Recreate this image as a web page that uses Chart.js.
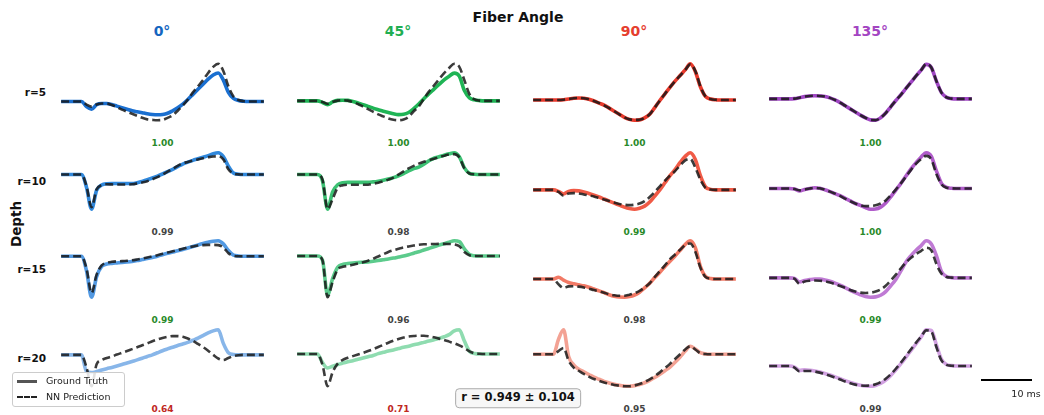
<!DOCTYPE html>
<html>
<head>
<meta charset="utf-8">
<script src="https://cdn.jsdelivr.net/npm/chart.js@4"></script>
<style>
  body { margin: 0; background: #fff; font-family: "DejaVu Sans", sans-serif; }
  #fig { position: relative; width: 1044px; height: 415px; overflow: hidden; }
  .lbl { position: absolute; transform: translate(-50%, -50%); white-space: nowrap; line-height: 1; }
  .panel { position: absolute; }
</style>
</head>
<body>
<div id="fig"></div>
<script>
// time axis (ms)
const timeMs = [0,1,2,3,4,5,6,7,8,9,10,11,12,13,14,15,16,17,18,19,20,
                21,22,23,24,25,26,27,28,29,30,31,32,33,34,35,36,37,38,39,40];

const angleLabels = ['0°', '45°', '90°', '135°'];
const depthLabels = ['r=5', 'r=10', 'r=15', 'r=20'];

// r=5
const gtR5A0   = [0,0,0,0,0, -5,-7.5,-3,-2,-2, -3,-4.5,-6,-7.5,-9, -10,-11,-12,-12.7,-13, -12.7,-11.5,-9,-6,-2.5, 2,7,12,17,22, 26,28,21,9,3, 1,0.3,0,0,0,0];
const nnR5A0   = [0,0,0,0,0, -3,-5,-3,-2,-2, -3.5,-5.5,-8,-10,-12, -14,-16,-17.5,-18,-18.3, -18,-16,-13.5,-9,-4, 2,9,15,21,28, 34,37,30,15,5, 1.5,0.3,0,0,0,0];
const gtR5A45  = [0,0,0,0,0, -1.5,-3.6,-1,0.5,0.7, 0.5,-0.5,-2,-3.7,-5.3, -7,-8.5,-10,-11.2,-12.5, -13.3,-13,-11.2,-7.5,-3, 2,7,11.5,16,20.5, 24,27,24,10,3, 1,0.3,0,0,0,0];
const nnR5A45  = [0,0,0,0,0, -1,-2.7,-1,0.3,0.7, 0.3,-1.2,-3,-5.5,-8, -10.5,-13,-15,-17,-18.3, -18.7,-18,-15.5,-10,-5.5, 2,9,15,21,27, 32,36,33,20,6.5, 1.5,0.3,0,0,0,0];
const gtR5A90  = [0,0,0,0,0, 0,0.3,1,1.7,2, 1.7,0.8,-1,-3,-5, -8,-11,-14,-17,-19, -19.8,-19.5,-17.5,-14,-7.5, -0.5,6,12.5,18.5,24, 29.5,35.5,28,13,3.5, 1,0.2,0,0,0,0];
const nnR5A90  = [0,0,0,0,0, 0,0.3,1,1.7,2, 1.7,0.8,-1,-3,-5.2, -8,-11,-14,-17,-19, -19.5,-19.3,-17.5,-14,-7.5, -0.5,6,12.5,18.5,24, 29.5,35,28.5,13.5,3.5, 1,0.2,0,0,0,0];
const gtR5A135 = [0,0,0,0,0, 0.3,1.2,2.2,2.8,3, 2.8,2.4,1,-1,-3.5, -6.5,-9.5,-12.5,-15.5,-18, -20,-20.3,-18,-13.5,-7.5, -1.5,4,10,16,22, 27.5,33,30,17,6, 1.5,0.3,0,0,0,0];
const nnR5A135 = [0,0,0,0,0, 0.3,1.2,2.2,2.8,3, 2.8,2.3,1,-1,-3.5, -6.5,-9.5,-12.5,-15.5,-18, -20,-20.2,-18,-13.5,-7.5, -1.5,4,10,16,22, 27.5,33.5,30,17,6, 1.5,0.3,0,0,0,0];

// r=10
const gtR10A0   = [0,0,0,0,0, -12,-33,-15,-10,-8.7, -8.5,-8.5,-8.6,-8.6,-8.6, -7.8,-6.5,-5,-3.3,-1.5, 0.5,2.7,5,7.5,10, 11.8,13.5,15,16.5,18, 19.8,20.7,17,8,1.5, 0.3,0,0,0,0,0];
const nnR10A0   = [0,0,0,0,0, -11,-31,-14,-10,-9.3, -9.4,-9.5,-9.5,-9.5,-9.3, -8.5,-7.5,-6.3,-4.5,-2.5, 0,2.7,5.5,8.3,10.7, 12,13.3,14.4,15.5,16.5, 17.2,17.3,14.5,5,1, 0.2,0,0,0,0,0];
const gtR10A45  = [0,0,0,0,0, -6,-34,-17,-10,-8, -7.7,-7.7,-7.7,-7.7,-7.7, -7.2,-6.5,-5.6,-4.5,-3, -1.2,1,3.5,5.8,7.3, 10,13.5,16,17.5,19, 20.3,21.3,17.5,6.5,1.2, 0.3,0,0,0,0,0];
const nnR10A45  = [0,0,0,0,0, -5,-34,-24,-13,-10.5, -10,-10,-10,-10,-10, -9,-8,-6.7,-5,-3, 0,3,6,8.5,10.7, 12.5,14,15.5,17,18.5, 19.7,20,17,6,1, 0.2,0,0,0,0,0];
const gtR10A90  = [0,0,0,0,0, -1.5,-4,-1.5,-0.7,-1, -2,-3.5,-5.2,-7,-9, -11,-13,-15,-17,-18.4, -19,-18,-16,-12,-6, 0,7,14,20,27, 33,36.5,30,14,3, 0.5,0,0,0,0,0];
const nnR10A90  = [0,0,0,0,0, -2,-5.7,-3.5,-3.2,-3.5, -4.5,-5.5,-6.5,-8,-9.5, -11,-12.5,-13.8,-14.6,-15, -14.6,-13.5,-11,-7,-2, 3.5,9,14,18.5,24, 29,30.5,22,10,2, 0.3,0,0,0,0,0];
const gtR10A135 = [0,0,0,0,0, -0.5,-2.3,-1,0,0.7, 0.3,-1.2,-3,-5,-7, -9.5,-12,-14.5,-16.3,-18.5, -20,-19.8,-18,-14,-8, -1.5,5,12,19,25, 30.5,34.5,31,17,5, 1,0.2,0,0,0,0];
const nnR10A135 = [0,0,0,0,0, -0.5,-1.8,-1,0,0.6, 0.2,-1.2,-3,-5,-7.2, -9.8,-12.3,-14.5,-16.2,-17, -17,-16.3,-14.5,-11.5,-6.5, -1,5,11.5,18,24, 28.5,31.5,28,14,4, 0.8,0.2,0,0,0,0];

// r=15
const gtR15A0   = [0,0,0,0,0, -14,-40,-20,-10,-7.7, -7,-6.6,-6.2,-5.7,-5.1, -4.3,-3.3,-2.3,-1.2,0, 1.5,2.8,4,5.2,6.5, 8,9.5,11,12.4,13.6, 14.6,15,12,5.5,1, 0.2,0,0,0,0,0];
const nnR15A0   = [0,0,0,0,0, -12,-36,-18,-9,-6.5, -5.5,-5,-4.8,-4.5,-4, -3.2,-2.3,-1.3,-0.2,1, 2.3,3.6,4.8,6,7.2, 8.5,9.5,10.4,10.8,11, 11,10.8,8.5,3,0.5, 0,0,0,0,0,0];
const gtR15A45  = [0,0,0,0,0, -4,-38,-22,-11,-8.2, -7.3,-6.7,-6.3,-6,-5.7, -5,-4.3,-3.6,-2.9,-2, -1,0,1.3,2.8,4.2, 5.8,7.4,9,10.6,12, 13.5,14.8,14,7,1.5, 0.2,0,0,0,0,0];
const nnR15A45  = [0,0,0,0,0, -4,-40,-25,-13,-10.5, -9.5,-8.5,-7.2,-6,-4.5, -2.5,-0.5,1.8,4,5.6, 7,8.3,9.3,10.2,11, 11.4,11.6,11.7,11.8,11.8, 11.7,11.3,9.5,4,0.8, 0,0,0,0,0,0];
const gtR15A90  = [0,0,0,0,0, 1.7,-1,-3.3,-4.5,-5.5, -6.5,-7.8,-9.5,-11.3,-13, -15,-16.5,-17.2,-17.3,-16.7, -15.2,-12.5,-8.5,-4,1.5, 6.5,12,17,22,27.5, 33,36.5,30,12,2.5, 0.5,0,0,0,0,0];
const nnR15A90  = [0,0,0,0,0, -5,-8.5,-7,-6.8,-7.2, -8,-9.2,-10.5,-11.7,-13, -14.5,-15.5,-16,-16,-15, -13.5,-11.3,-8,-4,2, 7.5,13,19,23.5,28, 32.5,34,26,11,2, 0.3,0,0,0,0,0];
const gtR15A135 = [0,0,0,0,0, -0.5,-4,-2.5,-1.7,-1.1, -1.2,-2,-3.3,-5,-7, -9.3,-11.8,-14,-16,-17.6, -18.3,-18,-16.5,-13,-7.5, -1.5,6.5,15,21,26, 30.5,35,32,21,6, 1.3,0.2,0,0,0,0];
const nnR15A135 = [0,0,0,0,0, -0.8,-5.7,-3.5,-2.7,-2.5, -2.7,-3.3,-4.5,-6,-7.8, -9.5,-11.5,-13,-14,-14.3, -14,-13,-11,-7.5,-2.5, 3,9,14.5,19,22.5, 25.5,28.5,26,13,4, 0.8,0.2,0,0,0,0];

// r=20
const gtR20A0   = [0,0,0,0,0, -16,-17,-16,-14.5,-13.2, -12,-10.7,-9.3,-7.8,-6.3, -4.8,-3.2,-1.5,0,2, 4,5.7,7.3,9,10.5, 12,14,16,18.5,21, 23,24,11,2,0.3, 0,0,0,0,0,0];
const nnR20A0   = [0,0,0,0,0, -12,-30,-9,-5,-3, -1.5,0.3,2,3.7,5.5, 7.3,9.2,11,13,14.7, 16.2,17.3,18,18,17.3, 15.7,13.5,10.5,7.5,4, 0,-3.5,-5,-3,-1.2, -0.3,0,0,0,0,0];
const gtR20A45  = [0,0,0,0,0, -8,-13,-11.5,-9.8,-8.5, -7.3,-6.2,-5,-3.8,-2.6, -1.4,0.3,1.5,2.7,3.8, 5,6.2,7.3,8.5,9.6, 10.8,12,13.3,14.6,16, 18,21.5,22.5,12,2.5, 0.5,0,0,0,0,0];
const nnR20A45  = [0,0,0,0,0, -10,-30,-17,-9,-5.5, -3.5,-2,-0.5,1,2.7, 4.5,6.5,8.5,10.5,12.3, 14,15.3,16.2,16.7,17, 17,16.5,15.5,14.3,13, 11.5,10,8,5.5,2.5, 0.7,0.2,0,0,0,0];
const gtR20A90  = [0,0,0,0,0, 14,23,-2,-10,-14, -16.5,-19,-21.5,-23.5,-25.5, -27,-28.3,-29.2,-29.8,-30, -29.5,-28.5,-26.8,-24.5,-21.8, -18.8,-15.5,-12,-7.5,-2.5, 3,7.5,5,1.5,0.3, 0,0,0,0,0,0];
const nnR20A90  = [0,0,0,0,0, 3,6,-6,-12.5,-15.5, -18.5,-21,-23.3,-25,-26.5, -27.8,-28.8,-29.5,-30,-30, -29.3,-28,-26,-23.5,-20.5, -17,-13,-9,-4.5,0, 4.5,7.5,4.5,1,0.2, 0,0,0,0,0,0];
const gtR20A135 = [0,0,0,0,0, -1,-4,-3.5,-3.8,-4.5, -5.5,-6.8,-8.2,-9.8,-11.5, -13.2,-14.8,-16.2,-17.3,-18, -18.2,-17.5,-15.8,-12.8,-8.5, -3.5,2,8,14,20, 26,32.5,32,19,6, 1.3,0.3,0,0,0,0];
const nnR20A135 = [0,0,0,0,0, -1.5,-5,-4.5,-4.5,-5, -6,-7.3,-8.8,-10.5,-12.2, -14,-15.5,-16.8,-17.5,-17.8, -17.5,-16.5,-14.5,-11.5,-7.5, -2.5,3,9,15,21, 26.5,32,31,17,5, 1,0.2,0,0,0,0];

// correlation per panel
const corrR5  = [0.998, 0.997, 0.999, 0.999];
const corrR10 = [0.988, 0.981, 0.991, 0.996];
const corrR15 = [0.990, 0.962, 0.981, 0.992];
const corrR20 = [0.641, 0.712, 0.952, 0.988];
const summaryText = 'r = 0.949 ± 0.104';

const gtRows = [[gtR5A0, gtR5A45, gtR5A90, gtR5A135], [gtR10A0, gtR10A45, gtR10A90, gtR10A135],
                [gtR15A0, gtR15A45, gtR15A90, gtR15A135], [gtR20A0, gtR20A45, gtR20A90, gtR20A135]];
const nnRows = [[nnR5A0, nnR5A45, nnR5A90, nnR5A135], [nnR10A0, nnR10A45, nnR10A90, nnR10A135],
                [nnR15A0, nnR15A45, nnR15A90, nnR15A135], [nnR20A0, nnR20A45, nnR20A90, nnR20A135]];
const corrRows = [corrR5, corrR10, corrR15, corrR20];

// styles
const titleColors = ['#1565c0', '#1fae52', '#e53e2e', '#a345c2'];
const lineColors = [
    ['#1a6fd0', '#1fb455', '#e8392b', '#a046c4'],
    ['#3088dc', '#3cc173', '#f05a46', '#b05cca'],
    ['#5299e2', '#5ccb8c', '#f27a66', '#bf7ad4'],
    ['#88b6e9', '#8fdcb0', '#f3a294', '#d2a2e2']
];

const fig = document.getElementById('fig');

function addText(text, x, y, css) {
    const d = document.createElement('div');
    d.className = 'lbl';
    d.textContent = text;
    d.style.left = x + 'px';
    d.style.top = y + 'px';
    Object.assign(d.style, css || {});
    fig.appendChild(d);
    return d;
}

addText('Fiber Angle', 518, 17, { fontWeight: 'bold', fontSize: '14px', color: '#111' });
angleLabels.forEach((a, c) => {
    addText(a, 162 + c * 236, 31, { fontWeight: 'bold', fontSize: '14px', color: titleColors[c] });
});
depthLabels.forEach((d, r) => {
    const el = addText(d, 46, 92 + r * 88.5, { fontWeight: 'bold', fontSize: '10.5px', color: '#111' });
    el.style.transform = 'translate(-100%, -50%)';
});
addText('Depth', 17, 224, { fontWeight: 'bold', fontSize: '13.5px', color: '#111', transform: 'translate(-50%, -50%) rotate(-90deg)' });

for (let r = 0; r < 4; r++) {
    for (let c = 0; c < 4; c++) {
        const gt = gtRows[r][c];
        const nn = nnRows[r][c];
        const all = gt.concat(nn);
        const lo = Math.min(...all), hi = Math.max(...all);
        const pad = (hi - lo) * 0.05;

        const left = 51 + c * 236;
        const top = Math.round(61 + r * 88.5);
        const holder = document.createElement('div');
        holder.className = 'panel';
        holder.style.left = left + 'px';
        holder.style.top = top + 'px';
        holder.style.width = '223px';
        holder.style.height = '62px';
        const cv = document.createElement('canvas');
        cv.width = 223;
        cv.height = 62;
        holder.appendChild(cv);
        fig.appendChild(holder);

        new Chart(cv.getContext('2d'), {
            type: 'line',
            data: {
                datasets: [
                    {
                        label: 'NN Prediction',
                        data: nn.map((v, i) => ({ x: timeMs[i], y: v })),
                        borderColor: 'rgba(25,25,25,0.85)',
                        borderWidth: 2.6,
                        borderDash: [8, 4],
                        pointRadius: 0,
                        cubicInterpolationMode: 'monotone',
                        clip: false,
                        order: 0
                    },
                    {
                        label: 'Ground Truth',
                        data: gt.map((v, i) => ({ x: timeMs[i], y: v })),
                        borderColor: lineColors[r][c],
                        borderWidth: 3.6,
                        pointRadius: 0,
                        cubicInterpolationMode: 'monotone',
                        clip: false,
                        order: 1
                    }
                ]
            },
            options: {
                responsive: false,
                animation: false,
                events: [],
                layout: { padding: 0 },
                plugins: { legend: { display: false }, tooltip: { enabled: false } },
                scales: {
                    x: { type: 'linear', display: false, min: -2, max: 42 },
                    y: { display: false, min: lo - pad, max: hi + pad }
                }
            }
        });

        const rv = corrRows[r][c];
        const col = rv >= 0.99 ? '#2a8a2a' : (rv < 0.9 ? '#c0281e' : '#444');
        addText(rv.toFixed(2), left + 111.5, top + 82, { fontWeight: 'bold', fontSize: '9px', color: col });
    }
}

// legend
const leg = document.createElement('div');
Object.assign(leg.style, {
    position: 'absolute', left: '12px', top: '372px', width: '111px', height: '33px',
    border: '1px solid #ccc', borderRadius: '3px', background: 'rgba(255,255,255,0.85)'
});
fig.appendChild(leg);
[['Ground Truth', '3px solid #555', 381], ['NN Prediction', '2.6px dashed #222', 397]].forEach(([txt, bd, y]) => {
    const s = document.createElement('div');
    Object.assign(s.style, { position: 'absolute', left: '17px', top: (y - 1) + 'px', width: '20px', height: '0', borderTop: bd });
    fig.appendChild(s);
    const t = addText(txt, 46, y, { fontSize: '9.5px', color: '#222' });
    t.style.transform = 'translate(0, -50%)';
});

// summary box
addText(summaryText, 518, 398, {
    fontWeight: 'bold', fontSize: '11.5px', color: '#111', background: '#f7f7f7',
    border: '1px solid #aaa', borderRadius: '4px', padding: '3px 5px'
});

// scale bar
const bar = document.createElement('div');
Object.assign(bar.style, { position: 'absolute', left: '981px', top: '379px', width: '51px', height: '2px', background: '#000' });
fig.appendChild(bar);
addText('10 ms', 1026, 394, { fontSize: '9.5px', color: '#222' });
</script>
</body>
</html>
